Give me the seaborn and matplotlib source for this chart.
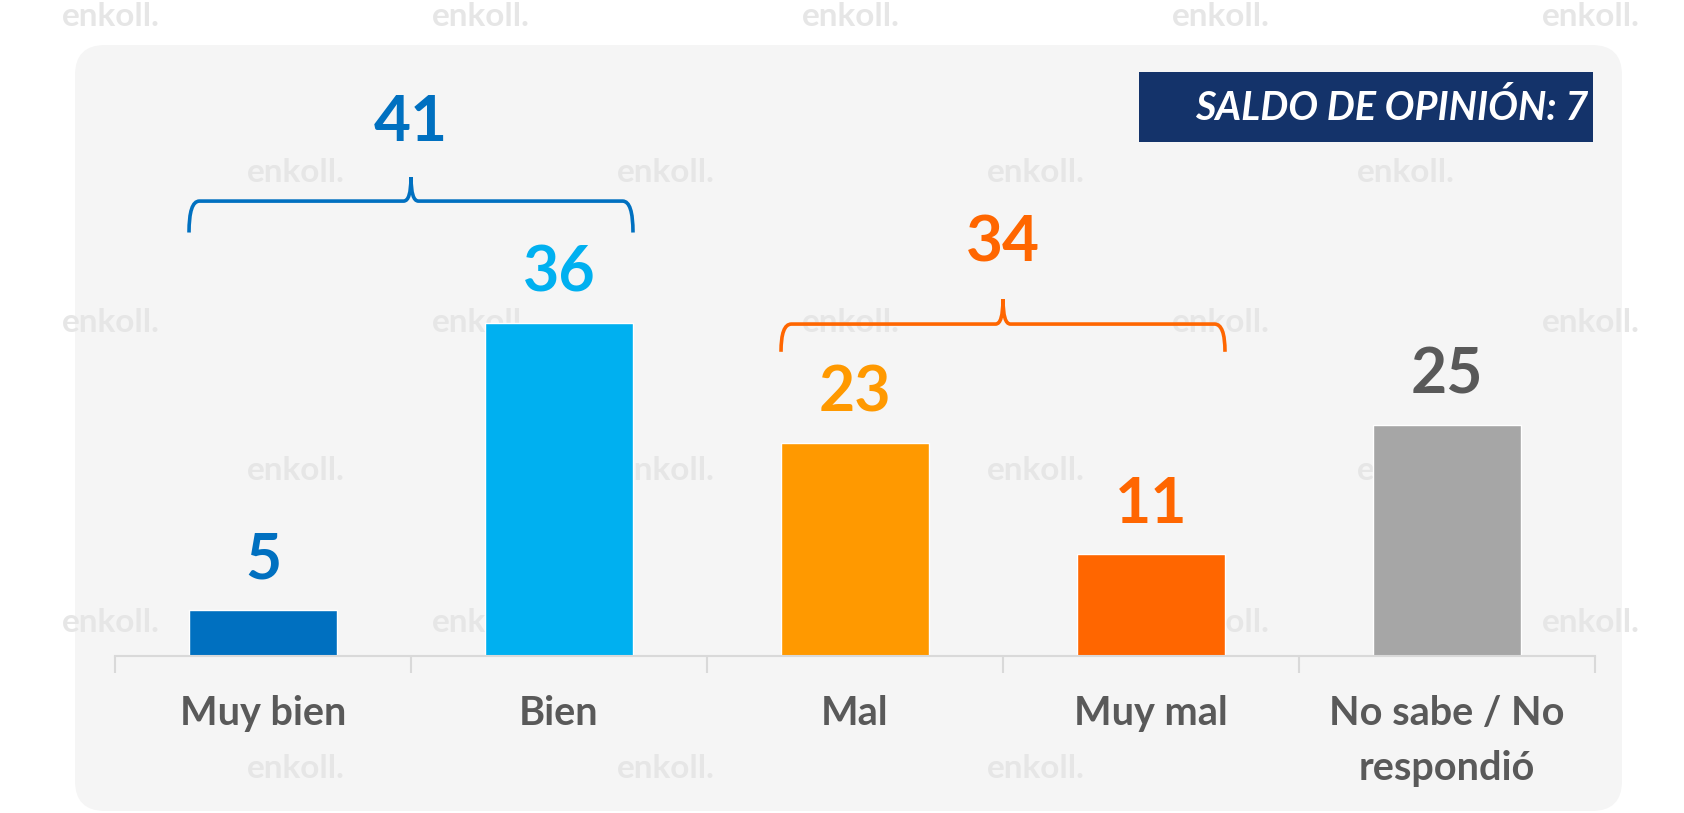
import matplotlib
matplotlib.use("Agg")
import matplotlib.pyplot as plt
import seaborn as sns
import pandas as pd
from matplotlib.patches import FancyBboxPatch, Rectangle, PathPatch
from matplotlib.path import Path

# data
categories = ["Muy bien", "Bien", "Mal", "Muy mal", "No sabe / No\nrespondió"]
values = [5, 36, 23, 11, 25]
bar_colors = ["#0070C0", "#00B0F0", "#FF9900", "#FF6600", "#A6A6A6"]
label_colors = ["#0070C0", "#00B0F0", "#FF9900", "#FF6600", "#595959"]
group_totals = [41, 34]          # Muy bien + Bien, Mal + Muy mal
group_members = [(0, 1), (2, 3)]
group_colors = ["#0070C0", "#FF6600"]
saldo = 7

sns.set_style("white")
plt.rcParams["font.family"] = ["Lato", "DejaVu Sans"]

fig = plt.figure(figsize=(16.84, 8.13), dpi=100)
W, H = 1684, 813

# light grey rounded panel
panel = FancyBboxPatch((0.75, 0.02), 15.47, 7.66,
                       boxstyle="round,pad=0,rounding_size=0.3",
                       transform=fig.dpi_scale_trans, facecolor="#f5f5f5",
                       edgecolor="none", zorder=-3)
fig.add_artist(panel)

# watermark (only the copies that fit fully inside the picture)
for row in range(6):
    yy = [16, 172, 322, 470, 622, 768][row]
    offs = 62 if row % 2 == 0 else 247 - 370
    for k in range(6):
        xx = offs + k * 370
        if xx < 0 or xx + 140 > W or (row == 5 and k == 4):
            continue
        fig.text(xx / W, 1 - yy / H, "enkoll.", fontsize=24, fontweight="bold",
                 color="#e6e6e6", ha="left", va="center", zorder=-2)

ax = fig.add_axes([115 / W, (H - 656) / H, 1480 / W, 601 / H])
ax.patch.set_alpha(0)

df = pd.DataFrame({"cat": categories, "val": values})
sns.barplot(data=df, x="cat", y="val", hue="cat", palette=bar_colors,
            width=0.5, legend=False, saturation=1, ax=ax)

ax.set_xlim(-0.5, len(categories) - 0.5)
ax.set_ylim(0, 65)
ax.set_xlabel("")
ax.set_ylabel("")
ax.set_yticks([])
for s in ["top", "right", "left"]:
    ax.spines[s].set_visible(False)
ax.spines["bottom"].set_color("#d9d9d9")
ax.spines["bottom"].set_linewidth(1.5)

ax.set_xticks(range(len(categories)))
ax.set_xticklabels(categories, fontsize=28.5, fontweight="bold", color="#595959",
                   linespacing=1.6)
ax.tick_params(axis="x", which="major", length=0, pad=28)
ax.set_xticks([i - 0.5 for i in range(len(categories) + 1)], minor=True)
ax.tick_params(axis="x", which="minor", bottom=True, direction="out",
               length=12, width=1.5, color="#d9d9d9")

for i, v in enumerate(values):
    ax.text(i, v + 3.4, str(v), ha="center", va="baseline", fontsize=45,
            fontweight="bold", color=label_colors[i])


def brace(x0, x1, y_end, y_h, y_peak, color):
    xm = (x0 + x1) / 2
    d, d2 = 0.035, 0.025
    verts = [(x0, y_end), (x0, y_h), (x0 + d, y_h),
             (xm - d2, y_h), (xm, y_h), (xm, y_peak),
             (xm, y_h), (xm + d2, y_h),
             (x1 - d, y_h), (x1, y_h), (x1, y_end)]
    codes = [Path.MOVETO, Path.CURVE3, Path.CURVE3,
             Path.LINETO, Path.CURVE3, Path.CURVE3,
             Path.CURVE3, Path.CURVE3,
             Path.LINETO, Path.CURVE3, Path.CURVE3]
    ax.add_patch(PathPatch(Path(verts, codes), facecolor="none",
                           edgecolor=color, lw=2.6, clip_on=False))
    return xm


brace_y = [(45.8, 49.2, 51.8, 55.7), (32.9, 35.9, 38.6, 42.7)]
for (a, b), tot, col, (ye, yh, yp, yt) in zip(group_members, group_totals,
                                               group_colors, brace_y):
    xm = brace(a - 0.25, b + 0.25, ye, yh, yp, col)
    ax.text(xm, yt, str(tot), ha="center", va="baseline", fontsize=46,
            fontweight="bold", color=col)

# saldo box
fig.add_artist(Rectangle((1139 / W, 1 - 142 / H), 454 / W, 70 / H,
                         transform=fig.transFigure, facecolor="#14336A",
                         edgecolor="none"))
fig.text(1588 / W, 1 - 108 / H, f"SALDO DE OPINIÓN: {saldo}", ha="right",
         va="center", fontsize=28.5, fontweight="bold", fontstyle="italic",
         color="white")

fig.savefig("out.png", dpi=100)
